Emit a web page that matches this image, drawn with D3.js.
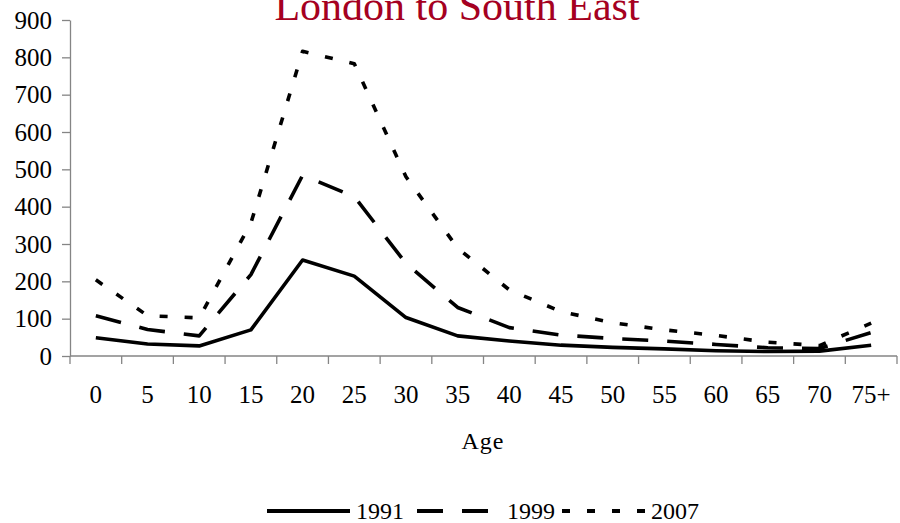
<!DOCTYPE html>
<html>
<head>
<meta charset="utf-8">
<script src="https://cdn.jsdelivr.net/npm/d3@7"></script>
<style>
  html, body { margin: 0; padding: 0; background: #fff; }
  svg { display: block; }
  svg text { font-family: "Liberation Serif", "Times New Roman", Times, serif; }
</style>
</head>
<body>
<svg id="chart" width="900" height="523"></svg>
<script>
// Age groups along the horizontal axis
const ages = ["0","5","10","15","20","25","30","35","40","45","50","55","60","65","70","75+"];

// Migrants by age group, one array per year
const y1991 = [49, 32, 27, 70, 257, 214, 103, 54, 40, 29, 23, 19, 14, 12, 13, 29];
const y1999 = [108, 71, 54, 218, 484, 427, 248, 130, 76, 56, 47, 40, 31, 22, 20, 63];
const y2007 = [204, 108, 102, 356, 816, 783, 480, 289, 177, 119, 89, 70, 55, 37, 28, 88];

const yTicks = [0, 100, 200, 300, 400, 500, 600, 700, 800, 900];
const seriesNames = ["1991", "1999", "2007"];

const series = [
  { name: seriesNames[0], values: y1991, dash: null },
  { name: seriesNames[1], values: y1999, dash: "26,19" },
  { name: seriesNames[2], values: y2007, dash: "8,17" }
];

const svg = d3.select("#chart");
const plotLeft = 70, plotRight = 897, plotTop = 20, plotBottom = 356;
const axisColor = "#858585";

const x = d3.scaleBand().domain(ages).range([plotLeft, plotRight]);
const y = d3.scaleLinear().domain([0, 900]).range([plotBottom, plotTop]);
const cx = a => x(a) + x.bandwidth() / 2;

// Title
svg.append("text")
  .attr("x", 457).attr("y", 20)
  .attr("text-anchor", "middle")
  .attr("font-size", 42)
  .attr("fill", "#A50021")
  .text("London to South East");

// Y axis
const yAxis = svg.append("g")
  .attr("transform", `translate(${plotLeft},0)`)
  .call(d3.axisLeft(y).tickValues(yTicks).tickSize(8).tickPadding(10).tickSizeOuter(0));
yAxis.select(".domain").attr("stroke", axisColor).attr("stroke-width", 1.3);
yAxis.selectAll(".tick line").attr("stroke", axisColor).attr("stroke-width", 1.3);
yAxis.selectAll(".tick text")
  .attr("font-size", 25).attr("fill", "#000");

// X axis: ticks sit on the band boundaries, labels at band centres
const xg = svg.append("g");
xg.append("line")
  .attr("x1", plotLeft).attr("x2", plotRight)
  .attr("y1", plotBottom).attr("y2", plotBottom)
  .attr("stroke", axisColor).attr("stroke-width", 1.3);
const boundaries = ages.map(a => x(a)).concat([plotRight]);
xg.selectAll("line.tick").data(boundaries).join("line")
  .attr("class", "tick")
  .attr("x1", d => d).attr("x2", d => d)
  .attr("y1", plotBottom).attr("y2", plotBottom + 8)
  .attr("stroke", axisColor).attr("stroke-width", 1.3);
xg.selectAll("text").data(ages).join("text")
  .attr("x", d => cx(d)).attr("y", 403)
  .attr("text-anchor", "middle")
  .attr("font-size", 25)
  .text(d => d);

// Axis title
svg.append("text")
  .attr("x", 483).attr("y", 449)
  .attr("text-anchor", "middle")
  .attr("font-size", 24)
  .attr("letter-spacing", 1)
  .text("Age");

// Lines
const line = d3.line()
  .x((d, i) => cx(ages[i]))
  .y(d => y(d));

svg.append("g").selectAll("path").data(series).join("path")
  .attr("d", d => line(d.values))
  .attr("fill", "none")
  .attr("stroke", "#000")
  .attr("stroke-width", 3.6)
  .attr("stroke-linejoin", "round")
  .attr("stroke-dasharray", d => d.dash);

// Legend: each key is the same length, text follows after a small gap
const legendY = 511;
const keyLen = 83;
const legendX = [267, 417, 562];
const lg = svg.append("g");
series.forEach((s, i) => {
  const x0 = legendX[i];
  lg.append("line")
    .attr("x1", x0).attr("x2", x0 + keyLen)
    .attr("y1", legendY).attr("y2", legendY)
    .attr("stroke", "#000")
    .attr("stroke-width", 4)
    .attr("stroke-dasharray", s.dash);
  lg.append("text")
    .attr("x", x0 + keyLen + (i === 1 ? 7 : 6)).attr("y", legendY + 8)
    .attr("font-size", 24)
    .text(s.name);
});
</script>
</body>
</html>
